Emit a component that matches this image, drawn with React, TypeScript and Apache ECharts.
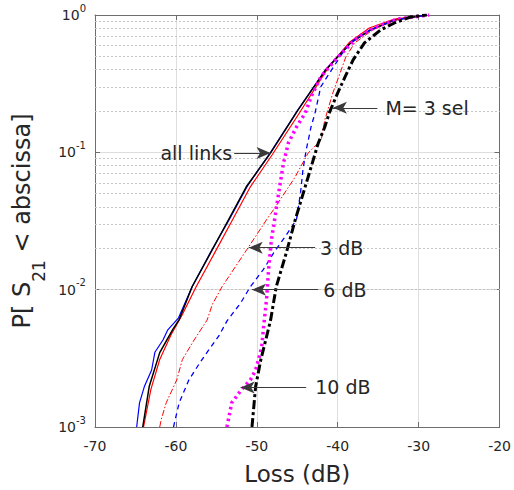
import React, { useEffect, useRef } from 'react';
import * as echarts from 'echarts';

// Axis ranges and ticks
const lossMin = -70;
const lossMax = -20;
const lossTickStep = 10;
const probMin = 0.001;
const probMax = 1;
const minorDecades = [0.001, 0.01, 0.1];
const minorMultipliers = [2, 3, 4, 5, 6, 7, 8, 9];

// [loss (dB), probability]
const allLinksBlue: [number, number][] = [
  [-64.85, 0.001], [-64.5, 0.0015], [-63.9, 0.00197], [-63.0, 0.0026], [-62.6, 0.0035],
  [-61.6, 0.0043], [-61.0, 0.0051], [-59.7, 0.0062], [-58.0, 0.0105], [-55.7, 0.0188],
  [-53.4, 0.0325], [-51.2, 0.0565], [-48.3, 0.1], [-44.9, 0.205], [-41.5, 0.4],
  [-38.5, 0.63], [-36.0, 0.78], [-33.0, 0.92], [-29.0, 1.0],
];
const allLinksRed: [number, number][] = [
  [-64.0, 0.001], [-63.1, 0.00187], [-62.0, 0.0031], [-60.6, 0.0047], [-59.2, 0.0066],
  [-57.5, 0.0105], [-55.2, 0.0186], [-53.0, 0.0323], [-50.8, 0.0561], [-48.1, 0.096],
  [-44.9, 0.187], [-41.2, 0.412], [-38.5, 0.636], [-36.1, 0.804], [-33.0, 0.935], [-29.0, 1.0],
];
const allLinksBlack: [number, number][] = [
  [-64.1, 0.001], [-63.3, 0.00197], [-62.0, 0.00348], [-60.4, 0.00512], [-59.6, 0.00605],
  [-58.0, 0.0105], [-55.7, 0.0186], [-53.5, 0.0323], [-51.3, 0.0561], [-48.3, 0.0991],
  [-44.9, 0.204], [-41.5, 0.398], [-38.4, 0.626], [-35.9, 0.778], [-33.0, 0.92], [-29.0, 1.0],
];
const sel3dB: [number, number][] = [
  [-62.0, 0.001], [-61.8, 0.00114], [-61.2, 0.0015], [-59.9, 0.0022], [-59.2, 0.0031],
  [-57.75, 0.0043], [-56.15, 0.006], [-55.5, 0.0078], [-54.3, 0.0105], [-51.25, 0.0195],
  [-48.8, 0.0323], [-47.7, 0.04], [-45.25, 0.0664], [-43.65, 0.099], [-42.05, 0.123],
  [-41.6, 0.172], [-40.6, 0.271], [-39.7, 0.379], [-39.0, 0.495], [-37.9, 0.626],
  [-35.7, 0.778], [-32.9, 0.92], [-29.0, 1.0],
];
const sel6dB: [number, number][] = [
  [-60.3, 0.001], [-59.6, 0.0015], [-58.4, 0.0022], [-57.1, 0.0029], [-56.15, 0.0035],
  [-54.7, 0.0046], [-53.7, 0.0059], [-52.0, 0.008], [-50.8, 0.0105], [-49.2, 0.014],
  [-47.9, 0.0186], [-46.5, 0.0243], [-45.1, 0.0323], [-44.6, 0.0507], [-44.3, 0.0746],
  [-43.9, 0.104], [-43.3, 0.153], [-42.8, 0.194], [-42.1, 0.3], [-40.6, 0.412],
  [-39.4, 0.529], [-38.5, 0.626], [-36.0, 0.778], [-33.0, 0.92], [-29.0, 1.0],
];
const sel10dB: [number, number][] = [
  [-53.7, 0.001], [-53.1, 0.0015], [-51.9, 0.00187], [-50.8, 0.0022], [-50.15, 0.0026],
  [-49.8, 0.0031], [-49.4, 0.0038], [-49.2, 0.0051], [-48.8, 0.0085], [-48.55, 0.014],
  [-48.2, 0.0231], [-47.9, 0.0297], [-47.3, 0.0507], [-46.7, 0.0839], [-46.1, 0.117],
  [-45.1, 0.153], [-44.0, 0.194], [-43.3, 0.253], [-42.1, 0.354], [-40.3, 0.471],
  [-38.75, 0.585], [-37.5, 0.692], [-35.3, 0.818], [-32.6, 0.935], [-28.7, 1.0],
];
const selM3: [number, number][] = [
  [-50.6, 0.001], [-50.15, 0.00197], [-49.5, 0.0031], [-48.9, 0.0043], [-48.3, 0.006],
  [-47.6, 0.0105], [-46.35, 0.0186], [-45.25, 0.0323], [-43.65, 0.0664], [-42.4, 0.117],
  [-41.6, 0.153], [-41.0, 0.197], [-40.0, 0.271], [-39.1, 0.354], [-38.1, 0.471],
  [-36.7, 0.626], [-34.7, 0.778], [-33.0, 0.875], [-31.0, 0.967], [-29.0, 1.0],
];

// Annotations: label, arrow tail (text side), arrow tip
const annotationLabels = ['all links', 'M= 3 sel', '3 dB', '6 dB', '10 dB'];
const annotationTails: [number, number][] = [[-52.8, 0.099], [-35.1, 0.211], [-42.8, 0.0202], [-42.4, 0.01], [-43.9, 0.00194]];
const annotationTips: [number, number][] = [[-48.3, 0.099], [-40.6, 0.211], [-51.0, 0.0202], [-50.6, 0.01], [-52.0, 0.00194]];
const annotationGaps = [2, 8, 5, 5, 9];

export default function App() {
  const ref = useRef<HTMLDivElement>(null);
  useEffect(() => {
    if (!ref.current) return;
    const chart = echarts.init(ref.current, undefined, { renderer: 'svg' });
    const FONT = '"DejaVu Sans", sans-serif';
    const TXT = '#262626';
    const FRAME = '#6e6e6e';

    const minorLines: any[] = [];
    minorDecades.forEach((d) => minorMultipliers.forEach((m) => minorLines.push({ yAxis: +(d * m).toPrecision(3) })));

    const annotationData = annotationLabels.map((t, i) => [
      {
        coord: annotationTails[i],
        label: { show: true, position: 'start', formatter: t, distance: annotationGaps[i], fontSize: 19, fontFamily: FONT, color: TXT },
      },
      { coord: annotationTips[i] },
    ]);

    const mk = (data: [number, number][], color: string, width: number, type: any, extra: any = {}) => ({
      type: 'line',
      data,
      showSymbol: false,
      symbol: 'none',
      silent: true,
      z: 3,
      lineStyle: { color, width, type },
      emphasis: { disabled: true },
      ...extra,
    });

    const option: any = {
      animation: false,
      backgroundColor: '#fff',
      grid: { left: 95, right: 11, top: 15, bottom: 63 },
      xAxis: [
        {
          type: 'value', min: lossMin, max: lossMax, interval: lossTickStep,
          name: 'Loss (dB)', nameLocation: 'middle', nameGap: 35,
          nameTextStyle: { fontSize: 23, fontFamily: FONT, color: TXT },
          axisLine: { show: true, onZero: false, lineStyle: { color: FRAME } },
          axisTick: { show: true, inside: true, length: 5, lineStyle: { color: FRAME } },
          axisLabel: { fontSize: 14, fontFamily: FONT, color: TXT, margin: 12 },
          splitLine: { show: true, lineStyle: { color: '#dedede', width: 1 } },
        },
        {
          type: 'value', position: 'top', min: lossMin, max: lossMax, interval: lossTickStep,
          axisLine: { show: true, onZero: false, lineStyle: { color: FRAME } },
          axisTick: { show: true, inside: true, length: 5, lineStyle: { color: FRAME } },
          axisLabel: { show: false }, splitLine: { show: false },
        },
      ],
      yAxis: [
        {
          type: 'log', logBase: 10, min: probMin, max: probMax,
          name: 'P[ S{sub|21} < abscissa]', nameLocation: 'middle', nameGap: 37,
          nameTextStyle: {
            fontSize: 24, fontFamily: FONT, color: TXT,
            rich: { sub: { fontSize: 17, fontFamily: FONT, color: TXT, verticalAlign: 'bottom', lineHeight: 50 } },
          },
          axisLine: { show: true, onZero: false, lineStyle: { color: FRAME } },
          axisTick: { show: true, inside: true, length: 5, lineStyle: { color: FRAME } },
          axisLabel: {
            fontSize: 14, fontFamily: FONT, color: TXT, margin: 9,
            formatter: (v: number) => `10{sup|${Math.round(Math.log10(v))}}`,
            rich: { sup: { fontSize: 10, fontFamily: FONT, color: TXT, verticalAlign: 'top', lineHeight: 24 } },
          },
          splitLine: { show: true, lineStyle: { color: '#dedede', width: 1 } },
        },
        {
          type: 'log', logBase: 10, min: probMin, max: probMax, position: 'right',
          axisLine: { show: true, onZero: false, lineStyle: { color: FRAME } },
          axisTick: { show: true, inside: true, length: 5, lineStyle: { color: FRAME } },
          axisLabel: { show: false }, splitLine: { show: false },
        },
      ],
      series: [
        mk(allLinksBlue, '#0000ff', 1.2, 'solid', {
          markLine: {
            silent: true, z: 1, symbol: ['none', 'none'], animation: false,
            label: { show: false }, emphasis: { disabled: true },
            lineStyle: { type: [2, 2], color: '#c4c4c4', width: 1 },
            data: minorLines,
          },
        }),
        mk(allLinksRed, '#ff0000', 1.2, 'solid'),
        mk(allLinksBlack, '#000000', 1.5, 'solid'),
        mk(sel3dB, '#ff0000', 1, [6, 2, 1.5, 2]),
        mk(sel6dB, '#0000ff', 1.3, [5, 4]),
        mk(sel10dB, '#ff00ff', 3.5, [2.5, 3.5]),
        mk(selM3, '#000000', 3, [9, 3, 3, 3], {
          markLine: {
            silent: true, z: 6, symbol: ['none', 'arrow'], symbolSize: [9, 14], animation: false,
            emphasis: { disabled: true },
            lineStyle: { type: 'solid', color: '#3a3a3a', width: 1 },
            data: annotationData,
          },
        }),
      ],
    };
    chart.setOption(option);
    return () => chart.dispose();
  }, []);
  return <div ref={ref} style={{ position: 'fixed', left: 0, top: 0, width: 514, height: 490, background: '#fff' }} />;
}
